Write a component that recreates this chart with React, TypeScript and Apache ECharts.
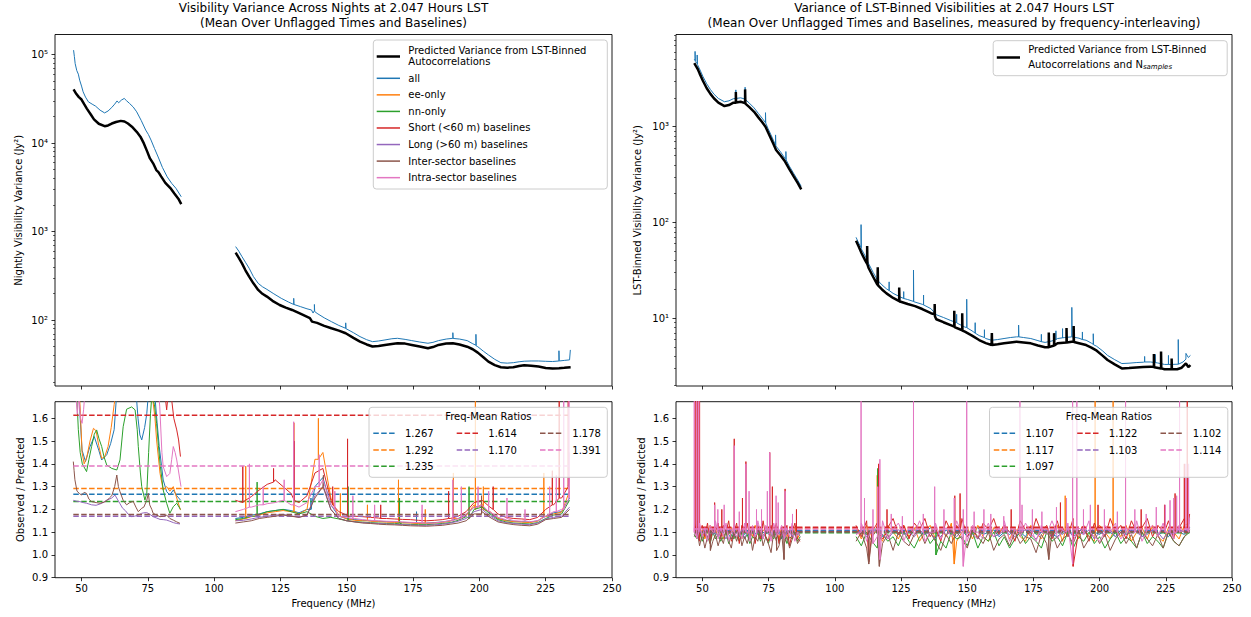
import React, { useEffect, useRef } from 'react';
import * as echarts from 'echarts';

const FONT = 'DejaVu Sans';
const SUBSETS = ['all', 'ee-only', 'nn-only', 'Short (<60 m) baselines', 'Long (>60 m) baselines', 'Inter-sector baselines', 'Intra-sector baselines'];
const COLORS = ['#1f77b4', '#ff7f0e', '#2ca02c', '#d62728', '#9467bd', '#8c564b', '#e377c2'];
const X_TICKS = [50, 75, 100, 125, 150, 175, 200, 225, 250];
const RATIO_TICKS = [0.9, 1.0, 1.1, 1.2, 1.3, 1.4, 1.5, 1.6];
const L_LOG_TICKS = [100, 1000, 10000, 100000];
const L_LOG_MINOR = [20, 30, 40, 50, 60, 70, 80, 90, 200, 300, 400, 500, 600, 700, 800, 900, 2000, 3000, 4000, 5000, 6000, 7000, 8000, 9000, 20000, 30000, 40000, 50000, 60000, 70000, 80000, 90000];
const R_LOG_TICKS = [10, 100, 1000];
const R_LOG_MINOR = [2, 3, 4, 5, 6, 7, 8, 9, 20, 30, 40, 50, 60, 70, 80, 90, 200, 300, 400, 500, 600, 700, 800, 900, 2000, 3000, 4000, 5000, 6000, 7000, 8000, 9000];
const MEANS_L = [1.267, 1.292, 1.235, 1.614, 1.170, 1.178, 1.391];
const MEANS_R = [1.107, 1.117, 1.097, 1.122, 1.103, 1.102, 1.114];
const F_START = 46.9;
const F_END = 234.4;
const GAP_F = 97;

// ---------- top-left: nightly variance ----------
const PRED_L_B1 = [[47.0, 40300], [48.0, 36000], [49.0, 33000], [50.0, 31000], [51.0, 27500], [52.0, 24500], [53.5, 21000], [54.7, 18500], [56.5, 16500], [58.7, 15500], [60.0, 15800], [61.4, 16600], [63.0, 17300], [64.8, 17800], [66.2, 17500], [67.5, 16600], [69.0, 15300], [70.8, 13400], [72.2, 11800], [73.5, 9900], [74.7, 8100], [75.8, 6700], [77.0, 5900], [78.2, 4950], [79.0, 4700], [80.0, 4200], [81.6, 3550], [83.5, 3100], [85.0, 2690], [86.5, 2350], [87.6, 2040]];
const PRED_L_B2 = [[108.1, 577], [109.3, 505], [110.5, 437], [111.8, 365], [113.2, 309], [114.8, 260], [116.6, 219], [118.2, 198], [119.9, 184], [122.0, 165], [124.7, 148], [127.0, 138], [129.4, 130], [132.5, 118], [136.1, 105], [136.9, 96], [138.8, 93], [141.5, 86], [144.2, 80.7], [147.0, 76], [149.6, 71], [152.5, 63], [155.0, 57], [157.5, 53], [159.7, 50.2], [162.0, 50.8], [164.4, 52.4], [167.0, 53.8], [169.1, 54.7], [172.0, 54.2], [174.5, 52.4], [177.5, 50.2], [180.6, 48], [182.5, 49.5], [184.6, 52.4], [187.5, 54.2], [190.0, 54.7], [192.5, 53.0], [195.4, 50], [197.5, 46.8], [199.4, 42.9], [201.5, 38.0], [203.4, 33.9], [205.8, 31.0], [208.1, 29.3], [210.5, 29.0], [212.8, 29.3], [215.0, 30.2], [216.9, 30.9], [219.5, 30.5], [222.3, 29.8], [225.0, 28.8], [227.6, 28.3], [230.0, 28.6], [232.0, 28.9], [234.4, 29.3]];
const ALL_L_B1 = [[47.0, 112000], [47.3, 95000], [47.6, 79000], [48.2, 66000], [48.8, 60000], [49.3, 51300], [50.0, 44000], [50.6, 37900], [51.5, 33000], [52.6, 29200], [54.0, 27500], [55.3, 26100], [57.0, 23500], [58.7, 21900], [60.0, 23000], [61.4, 25200], [62.5, 27500], [63.4, 29900], [64.0, 28500], [65.0, 30500], [66.1, 31900], [67.0, 30000], [68.1, 28000], [69.5, 25500], [70.8, 22500], [72.5, 18000], [74.2, 14000], [75.2, 12500], [76.2, 10800], [77.5, 8700], [78.9, 6950], [80.5, 5300], [82.3, 4150], [84.0, 3500], [85.6, 3080], [87.6, 2470]];
const ALL_L_B2 = [[108.1, 676], [109.3, 600], [110.5, 520], [111.8, 450], [113.2, 385], [114.8, 310], [116.6, 260], [118.2, 238], [119.9, 222], [122.5, 198], [125.3, 176], [128.0, 160], [130.0, 150], [130.0, 176], [130.1, 150], [132.5, 142], [135.0, 134], [136.7, 130], [137.3, 120], [137.8, 128], [137.8, 150], [137.9, 125], [138.8, 119], [141.5, 106], [144.2, 96], [147.0, 87], [149.6, 80.7], [149.6, 93], [149.7, 80], [152.5, 72], [155.0, 65], [157.5, 60], [159.7, 57], [162.0, 58], [164.4, 59.6], [167.0, 61.5], [169.1, 62.2], [172.0, 60.5], [174.5, 58.6], [177.5, 56.5], [180.6, 54.7], [182.5, 56], [184.6, 58.6], [187.5, 61], [190.0, 62.2], [190.0, 72], [190.1, 62], [192.5, 61], [195.4, 58.6], [197.5, 54], [198.7, 52], [198.7, 69], [198.8, 51], [199.4, 50], [201.5, 44.5], [203.4, 40.4], [205.8, 36], [208.1, 33], [210.5, 32.6], [212.8, 33], [215.0, 33.8], [216.9, 34.3], [219.5, 34.5], [222.3, 34.5], [225.0, 34.2], [227.6, 34], [230.0, 34.5], [230.0, 45], [230.1, 34.5], [232.0, 35], [234.0, 35.5], [234.3, 46]];

// ---------- top-right: LST-binned variance ----------
const PRED_R_B1 = [[46.9, 4600], [47.5, 4300], [48.2, 4000], [48.9, 3600], [50.2, 3000], [51.6, 2520], [53.0, 2200], [54.3, 1980], [56.0, 1780], [58.3, 1640], [60.0, 1680], [61.7, 1780], [62.6, 1780], [62.6, 2300], [62.7, 1790], [64.4, 1820], [66.1, 1760], [66.1, 2450], [66.2, 1740], [67.7, 1600], [69.5, 1430], [71.1, 1250], [72.5, 1120], [73.8, 1000], [74.8, 870], [75.8, 757], [76.8, 660], [77.8, 571], [79.5, 500], [81.2, 432], [82.8, 360], [84.5, 301], [86.0, 258], [87.3, 222]];
const ALL_R_B1 = [[46.9, 5050], [47.2, 4900], [47.2, 6100], [47.3, 4800], [48.0, 4550], [48.0, 5600], [48.1, 4450], [48.9, 4000], [50.2, 3330], [51.6, 2800], [53.0, 2440], [54.3, 2190], [56.0, 1970], [58.3, 1820], [60.0, 1860], [61.7, 1960], [62.6, 1970], [62.6, 2420], [62.7, 1970], [64.4, 2000], [66.1, 1940], [66.1, 2580], [66.2, 1920], [67.7, 1760], [69.5, 1570], [71.1, 1375], [72.5, 1230], [73.8, 1100], [73.8, 1400], [73.9, 1090], [74.8, 950], [75.8, 830], [76.8, 720], [77.6, 640], [77.6, 820], [77.7, 630], [79.5, 545], [81.2, 465], [81.5, 455], [81.5, 550], [81.6, 450], [82.8, 388], [84.5, 323], [86.0, 276], [87.3, 238]];
const PRED_R_B2 = [[108.0, 64.6], [109.0, 56], [110.1, 47.7], [111.5, 40], [112.2, 37], [112.2, 56.9], [112.3, 36.5], [112.8, 33.3], [114.5, 27], [116.1, 22.3], [116.2, 34], [116.3, 22], [117.8, 20], [119.5, 18.2], [122.0, 16.3], [124.3, 15.1], [124.3, 21], [124.4, 15], [124.9, 14.9], [127.5, 14.1], [130.3, 13.4], [133.0, 12.5], [136.3, 11.3], [137.7, 11.0], [137.7, 14.1], [137.8, 10.5], [138.3, 9.77], [141.0, 9.1], [143.7, 8.5], [145.1, 8.2], [145.1, 12], [145.2, 8.1], [148.1, 7.5], [148.1, 11.3], [148.2, 7.45], [149.1, 7.25], [151.8, 6.6], [154.5, 5.93], [157.0, 5.5], [159.2, 5.26], [159.3, 7.0], [159.4, 5.26], [161.5, 5.35], [163.9, 5.48], [166.3, 5.6], [168.6, 5.7], [171.3, 5.6], [174.0, 5.48], [176.7, 5.2], [179.4, 4.98], [180.8, 5.0], [180.8, 7.1], [180.9, 5.0], [182.8, 5.2], [182.8, 7.0], [182.9, 5.2], [184.1, 5.48], [187.5, 5.6], [187.5, 7.9], [187.6, 5.6], [189.5, 5.7], [190.2, 5.7], [190.2, 8.3], [190.3, 5.65], [192.2, 5.5], [194.9, 5.26], [196.9, 4.95], [198.9, 4.59], [201.0, 4.1], [203.0, 3.67], [205.7, 3.3], [208.4, 3.0], [211.1, 3.02], [213.8, 3.07], [216.5, 3.1], [219.2, 3.13], [220.5, 3.1], [220.5, 4.24], [220.6, 3.08], [223.2, 3.0], [223.2, 4.5], [223.3, 3.0], [224.5, 2.94], [227.2, 2.94], [227.2, 3.8], [227.3, 2.94], [229.3, 2.94], [231.0, 3.05], [232.6, 3.39], [233.5, 3.1], [234.3, 3.25]];
const ALL_R_B2 = [[108.0, 70], [109.0, 61], [109.9, 55], [109.9, 95], [110.0, 53], [111.5, 44.5], [112.8, 37], [114.5, 30], [116.1, 25], [117.8, 22.3], [119.5, 20.3], [122.0, 18.2], [124.9, 16.6], [127.5, 15.7], [129.7, 15.0], [129.7, 31.9], [129.8, 14.9], [133.0, 14.0], [136.3, 12.6], [138.3, 10.9], [141.0, 10.2], [143.7, 9.5], [146.5, 8.8], [149.1, 8.1], [149.8, 8.0], [149.8, 15.8], [149.9, 7.95], [151.8, 7.4], [154.5, 6.6], [157.0, 6.15], [159.2, 5.9], [161.5, 6.0], [163.9, 6.15], [166.3, 6.3], [168.6, 6.4], [169.4, 6.4], [169.4, 8.5], [169.5, 6.4], [171.3, 6.3], [174.0, 6.15], [176.7, 5.85], [179.4, 5.6], [182.0, 5.8], [184.1, 6.15], [186.8, 6.3], [189.5, 6.4], [189.5, 13], [189.6, 6.4], [192.2, 6.2], [194.9, 5.9], [196.9, 5.5], [197.6, 5.35], [197.6, 6.9], [197.7, 5.3], [198.9, 5.1], [201.0, 4.6], [203.0, 4.1], [205.7, 3.7], [208.4, 3.37], [211.1, 3.4], [213.8, 3.45], [216.5, 3.48], [219.2, 3.5], [221.9, 3.42], [224.5, 3.3], [227.2, 3.3], [229.7, 3.32], [229.7, 6.0], [229.8, 3.32], [231.5, 3.5], [232.6, 3.75], [232.6, 4.3], [233.5, 3.9], [234.3, 4.1]];
const ALL_R_SP = [[120.5, 19.5, 24], [126.0, 16.1, 19], [133.5, 13.8, 17.5], [146.0, 9.0, 11], [153.0, 7.0, 9], [156.5, 6.3, 7.6], [178.0, 5.7, 6.8], [183.5, 6.0, 7.4], [186.0, 6.25, 7.8], [193.5, 6.0, 7.2], [217.0, 3.5, 4.0], [221.0, 3.45, 4.2], [226.0, 3.3, 4.1]];

// ---------- bottom-left: ratios, band 1 (freq, ratio) ----------
const L_ALL_B1 = [[46.9, 2.0], [48.5, 1.85], [49.5, 1.6], [50.2, 1.46], [51.5, 1.41], [53.0, 1.47], [54.8, 1.52], [56.5, 1.46], [57.6, 1.417], [59.5, 1.44], [61.0, 1.49], [62.3, 1.55], [63.5, 1.75], [66, 1.9], [70, 1.8], [71.3, 1.6], [72.0, 1.527], [72.7, 1.505], [73.8, 1.56], [74.6, 1.62], [75.5, 1.75], [77.5, 1.72], [78.5, 1.58], [79.3, 1.476], [80.8, 1.329], [82.1, 1.278], [83.3, 1.263], [84.6, 1.285], [85.9, 1.26], [87.3, 1.241]];
const L_EE_B1 = [[46.9, 2.0], [48.5, 1.85], [49.6, 1.62], [50.2, 1.45], [51.0, 1.40], [52.0, 1.43], [53.2, 1.5], [54.5, 1.556], [55.5, 1.545], [56.5, 1.48], [57.6, 1.424], [58.7, 1.43], [60.0, 1.476], [61.2, 1.56], [62.3, 1.66], [63.5, 1.75], [68, 1.8], [74, 1.75], [76.5, 1.72], [77.7, 1.6], [78.3, 1.505], [79.6, 1.358], [80.8, 1.285], [82.1, 1.3], [83.3, 1.28], [84.6, 1.3], [85.9, 1.25], [87.3, 1.197]];
const L_NN_B1 = [[46.9, 1.9], [48.0, 1.75], [48.8, 1.55], [49.5, 1.45], [50.3, 1.40], [51.9, 1.366], [52.8, 1.42], [53.8, 1.476], [54.8, 1.53], [55.7, 1.549], [56.6, 1.51], [57.6, 1.476], [58.5, 1.43], [59.5, 1.395], [61.4, 1.38], [63.3, 1.373], [64.5, 1.417], [65.7, 1.563], [67.0, 1.64], [68.9, 1.65], [70.2, 1.637], [71.0, 1.55], [71.4, 1.476], [72.2, 1.36], [72.7, 1.3], [73.9, 1.241], [74.6, 1.27], [75.3, 1.45], [76.0, 1.62], [76.5, 1.7], [77.5, 1.66], [78.3, 1.578], [79.0, 1.48], [79.6, 1.402], [80.8, 1.285], [82.1, 1.227], [83.3, 1.183], [84.6, 1.212], [85.9, 1.227], [87.3, 1.2]];
const L_SHORT_B1 = [[46.9, 2.2], [55, 2.4], [65, 2.5], [75, 2.3], [79, 2.0], [80.5, 1.8], [81.5, 1.7], [82.1, 1.637], [83.0, 1.75], [84.0, 1.68], [84.8, 1.6], [85.9, 1.549], [86.6, 1.505], [87.3, 1.432]];
const L_LONG_B1 = [[46.9, 1.24], [48.0, 1.236], [49.4, 1.234], [50.6, 1.23], [51.9, 1.227], [53.8, 1.22], [55.5, 1.218], [57.0, 1.224], [58.5, 1.232], [59.5, 1.241], [60.5, 1.245], [61.4, 1.25], [62.6, 1.263], [63.5, 1.245], [64.5, 1.225], [65.5, 1.205], [66.5, 1.195], [67.5, 1.18], [68.9, 1.168], [70.0, 1.17], [71.4, 1.175], [72.7, 1.183], [73.5, 1.185], [74.6, 1.186], [75.8, 1.178], [77.0, 1.168], [78.3, 1.162], [79.6, 1.156], [80.8, 1.155], [82.1, 1.153], [83.3, 1.148], [84.6, 1.142], [85.9, 1.138], [87.1, 1.136]];
const L_INTER_B1 = [[46.9, 1.41], [47.2, 1.37], [47.5, 1.33], [48.3, 1.28], [49.2, 1.27], [50.0, 1.263], [51.0, 1.275], [51.9, 1.27], [52.8, 1.245], [53.8, 1.234], [55.5, 1.23], [57.0, 1.227], [58.5, 1.232], [59.5, 1.238], [60.5, 1.25], [61.4, 1.26], [62.5, 1.3], [63.3, 1.351], [63.9, 1.3], [64.5, 1.278], [65.7, 1.24], [67.0, 1.22], [68.2, 1.23], [69.5, 1.235], [70.5, 1.21], [71.4, 1.19], [72.7, 1.205], [73.5, 1.21], [74.6, 1.24], [75.2, 1.27], [75.7, 1.22], [76.5, 1.2], [77.0, 1.183], [78.3, 1.175], [79.6, 1.168], [81.0, 1.17], [82.1, 1.175], [83.3, 1.16], [84.6, 1.153], [85.9, 1.145], [87.1, 1.139]];
const L_INTRA_B1 = [[46.9, 1.9], [47.5, 1.75], [48.0, 1.68], [48.4, 1.62], [49.0, 1.70], [49.6, 1.6], [50.2, 1.578], [50.8, 1.64], [51.5, 1.75], [60, 1.9], [70, 1.9], [78.5, 1.8], [79.5, 1.65], [80.3, 1.45], [80.8, 1.388], [82.1, 1.344], [83.3, 1.358], [84.0, 1.42], [84.6, 1.476], [85.3, 1.45], [85.9, 1.417], [87.1, 1.329], [87.5, 1.30]];

// ---------- bottom-left: ratios, band 2 (108..234 MHz every 3 MHz) ----------
const L_B2_START = 108;
const L_B2_STEP = 3;
const L_ALL_B2 = [1.16, 1.165, 1.175, 1.18, 1.19, 1.195, 1.2, 1.195, 1.185, 1.2, 1.30, 1.34, 1.22, 1.17, 1.16, 1.155, 1.152, 1.15, 1.148, 1.146, 1.145, 1.143, 1.142, 1.14, 1.14, 1.142, 1.145, 1.15, 1.16, 1.175, 1.21, 1.215, 1.185, 1.16, 1.152, 1.148, 1.146, 1.144, 1.15, 1.17, 1.185, 1.19, 1.25];
const L_EE_B2 = [1.15, 1.158, 1.168, 1.175, 1.185, 1.19, 1.195, 1.19, 1.18, 1.2, 1.42, 1.45, 1.25, 1.17, 1.158, 1.152, 1.15, 1.148, 1.146, 1.144, 1.143, 1.141, 1.14, 1.138, 1.138, 1.14, 1.143, 1.148, 1.158, 1.172, 1.22, 1.225, 1.19, 1.16, 1.15, 1.146, 1.144, 1.142, 1.148, 1.168, 1.18, 1.188, 1.28];
const L_NN_B2 = [1.155, 1.16, 1.17, 1.178, 1.19, 1.195, 1.2, 1.19, 1.18, 1.19, 1.17, 1.16, 1.165, 1.158, 1.15, 1.146, 1.144, 1.142, 1.14, 1.138, 1.137, 1.135, 1.134, 1.133, 1.133, 1.135, 1.138, 1.142, 1.152, 1.168, 1.2, 1.21, 1.18, 1.155, 1.145, 1.14, 1.138, 1.136, 1.142, 1.16, 1.175, 1.18, 1.24];
const L_SHORT_B2 = [1.24, 1.234, 1.256, 1.285, 1.31, 1.33, 1.30, 1.27, 1.23, 1.26, 1.36, 1.38, 1.24, 1.19, 1.175, 1.17, 1.168, 1.165, 1.162, 1.16, 1.158, 1.156, 1.155, 1.152, 1.15, 1.152, 1.155, 1.16, 1.17, 1.19, 1.23, 1.24, 1.21, 1.18, 1.165, 1.16, 1.158, 1.155, 1.165, 1.2, 1.22, 1.25, 1.35];
const L_LONG_B2 = [1.15, 1.152, 1.158, 1.165, 1.17, 1.175, 1.178, 1.172, 1.165, 1.175, 1.26, 1.3, 1.2, 1.16, 1.15, 1.145, 1.142, 1.14, 1.138, 1.136, 1.135, 1.133, 1.132, 1.13, 1.13, 1.132, 1.135, 1.14, 1.148, 1.16, 1.19, 1.2, 1.172, 1.15, 1.142, 1.138, 1.135, 1.133, 1.14, 1.158, 1.165, 1.17, 1.21];
const L_INTER_B2 = [1.14, 1.145, 1.15, 1.16, 1.165, 1.17, 1.175, 1.17, 1.165, 1.175, 1.25, 1.3, 1.2, 1.16, 1.15, 1.145, 1.14, 1.138, 1.135, 1.133, 1.132, 1.13, 1.128, 1.127, 1.126, 1.128, 1.13, 1.135, 1.14, 1.15, 1.18, 1.19, 1.165, 1.145, 1.138, 1.133, 1.13, 1.128, 1.135, 1.155, 1.16, 1.165, 1.2];
const L_INTRA_B2 = [1.19, 1.2, 1.21, 1.22, 1.225, 1.23, 1.24, 1.22, 1.21, 1.23, 1.30, 1.33, 1.22, 1.17, 1.165, 1.16, 1.155, 1.152, 1.15, 1.148, 1.147, 1.145, 1.143, 1.142, 1.14, 1.14, 1.145, 1.15, 1.16, 1.18, 1.21, 1.22, 1.19, 1.165, 1.155, 1.15, 1.148, 1.146, 1.15, 1.17, 1.19, 1.2, 1.45];
// narrow RFI spikes: [freq, base, peak]
const L_ALL_SP = [[136.5, 1.2, 1.25], [176.3, 1.14, 1.19]];
const L_EE_SP = [[111.9, 1.16, 1.39], [130.1, 1.19, 1.58], [139.3, 1.42, 1.6], [147.6, 1.17, 1.27], [157.8, 1.15, 1.22], [169.5, 1.14, 1.33], [179.6, 1.14, 1.2], [190.2, 1.16, 1.36], [198.5, 1.2, 1.7], [201.5, 1.2, 1.3], [224.3, 1.17, 1.36]];
const L_NN_SP = [[116.2, 1.17, 1.32], [150.5, 1.15, 1.3], [169.9, 1.14, 1.25], [196.1, 1.16, 1.3]];
const L_SHORT_SP = [[110.8, 1.23, 1.39], [122.4, 1.32, 1.38], [130.2, 1.24, 1.5], [144.7, 1.22, 1.3], [150.3, 1.17, 1.51], [162.8, 1.16, 1.22], [188.4, 1.16, 1.28], [205.2, 1.2, 1.3], [227.5, 1.22, 1.37], [230.1, 1.25, 1.75], [233.5, 1.3, 1.75]];
const L_LONG_SP = [];
const L_INTER_SP = [[141.2, 1.3, 1.35], [200.8, 1.18, 1.26]];
const L_INTRA_SP = [[113.3, 1.21, 1.4], [118.5, 1.22, 1.3], [126.4, 1.24, 1.33], [130.0, 1.22, 1.585], [139.6, 1.3, 1.44], [145.5, 1.2, 1.28], [152.3, 1.16, 1.26], [160.5, 1.15, 1.22], [178.4, 1.14, 1.22], [190.0, 1.15, 1.33], [193.2, 1.16, 1.3], [199.5, 1.21, 1.3], [203.5, 1.19, 1.28], [210.4, 1.16, 1.25], [217.2, 1.15, 1.2], [226.5, 1.18, 1.3], [229.0, 1.19, 1.35], [231.8, 1.2, 1.75], [233.8, 1.25, 1.75]];

// ---------- bottom-right: ratios (band 1 every 1 MHz from 46.9, band 2 every 2 MHz from 108) ----------
const R_B1_START = 46.9;
const R_B1_STEP = 1;
const R_B2_START = 108;
const R_B2_STEP = 2;
const R_ALL_B1 = [1.10, 1.09, 1.11, 1.08, 1.10, 1.12, 1.08, 1.10, 1.09, 1.11, 1.08, 1.10, 1.11, 1.09, 1.07, 1.10, 1.11, 1.08, 1.10, 1.09, 1.11, 1.07, 1.10, 1.09, 1.11, 1.08, 1.10, 1.09, 1.11, 1.08, 1.10, 1.09, 1.11, 1.07, 1.10, 1.09, 1.11, 1.08, 1.10, 1.09, 1.10];
const R_EE_B1 = [1.10, 1.12, 1.08, 1.11, 1.07, 1.10, 1.13, 1.09, 1.11, 1.08, 1.12, 1.07, 1.10, 1.09, 1.12, 1.08, 1.11, 1.10, 1.07, 1.12, 1.09, 1.11, 1.08, 1.13, 1.09, 1.07, 1.11, 1.10, 1.12, 1.08, 1.09, 1.11, 1.07, 1.12, 1.10, 1.08, 1.11, 1.09, 1.12, 1.07, 1.10];
const R_NN_B1 = [1.09, 1.07, 1.10, 1.06, 1.09, 1.08, 1.05, 1.10, 1.07, 1.09, 1.06, 1.08, 1.10, 1.05, 1.09, 1.07, 1.08, 1.06, 1.10, 1.07, 1.09, 1.05, 1.08, 1.07, 1.10, 1.06, 1.09, 1.08, 1.05, 1.09, 1.07, 1.10, 1.06, 1.08, 1.09, 1.05, 1.08, 1.07, 1.10, 1.06, 1.08];
const R_SHORT_B1 = [1.11, 1.15, 1.06, 1.13, 1.08, 1.14, 1.05, 1.12, 1.10, 1.14, 1.07, 1.13, 1.10, 1.15, 1.06, 1.09, 1.14, 1.05, 1.13, 1.10, 1.14, 1.08, 1.12, 1.05, 1.13, 1.07, 1.15, 1.08, 1.06, 1.13, 1.10, 1.14, 1.05, 1.12, 1.08, 1.13, 1.04, 1.10, 1.14, 1.07, 1.06];
const R_LONG_B1 = [1.10, 1.08, 1.11, 1.09, 1.10, 1.07, 1.11, 1.09, 1.10, 1.08, 1.11, 1.09, 1.07, 1.10, 1.11, 1.08, 1.10, 1.09, 1.11, 1.07, 1.10, 1.09, 1.11, 1.08, 1.10, 1.09, 1.07, 1.11, 1.09, 1.10, 1.08, 1.11, 1.09, 1.10, 1.07, 1.10, 1.11, 1.08, 1.09, 1.10, 1.08];
const R_INTER_B1 = [1.08, 1.11, 1.04, 1.09, 1.03, 1.08, 1.11, 1.06, 1.09, 1.04, 1.08, 1.05, 1.11, 1.06, 1.03, 1.10, 1.06, 1.11, 1.04, 1.08, 1.05, 1.10, 1.02, 1.08, 1.06, 1.11, 1.04, 1.08, 1.05, 1.01, 1.10, 1.06, 1.04, 1.10, 1.05, 1.08, 1.03, 1.07, 1.10, 1.05, 1.07];
const R_INTRA_B1 = [1.12, 1.07, 1.14, 1.08, 1.12, 1.06, 1.13, 1.10, 1.15, 1.07, 1.12, 1.08, 1.14, 1.06, 1.10, 1.13, 1.08, 1.12, 1.07, 1.14, 1.10, 1.06, 1.13, 1.08, 1.15, 1.10, 1.07, 1.13, 1.11, 1.06, 1.14, 1.08, 1.10, 1.13, 1.07, 1.12, 1.08, 1.14, 1.06, 1.10, 1.09];
const R_ALL_B2 = [1.10, 1.11, 1.09, 1.10, 1.12, 1.08, 1.10, 1.11, 1.09, 1.10, 1.08, 1.11, 1.10, 1.09, 1.12, 1.10, 1.08, 1.11, 1.09, 1.10, 1.11, 1.08, 1.10, 1.12, 1.09, 1.10, 1.11, 1.08, 1.10, 1.09, 1.11, 1.10, 1.08, 1.12, 1.09, 1.10, 1.11, 1.09, 1.08, 1.10, 1.11, 1.09, 1.10, 1.12, 1.08, 1.10, 1.09, 1.11, 1.10, 1.08, 1.11, 1.09, 1.10, 1.12, 1.08, 1.10, 1.11, 1.09, 1.10, 1.08, 1.11, 1.10, 1.09, 1.12];
const R_EE_B2 = [1.12, 1.07, 1.13, 1.08, 1.12, 1.06, 1.13, 1.10, 1.07, 1.13, 1.08, 1.12, 1.06, 1.10, 1.13, 1.07, 1.12, 1.08, 1.14, 1.06, 1.10, 1.12, 1.07, 1.13, 1.08, 1.06, 1.12, 1.10, 1.13, 1.07, 1.12, 1.08, 1.06, 1.13, 1.10, 1.07, 1.12, 1.08, 1.13, 1.06, 1.10, 1.13, 1.07, 1.12, 1.08, 1.06, 1.13, 1.10, 1.07, 1.12, 1.08, 1.13, 1.06, 1.10, 1.12, 1.07, 1.13, 1.08, 1.06, 1.12, 1.10, 1.07, 1.13, 1.14];
const R_NN_B2 = [1.08, 1.04, 1.10, 1.06, 1.03, 1.09, 1.06, 1.08, 1.04, 1.10, 1.06, 1.03, 1.08, 1.10, 1.05, 1.08, 1.06, 1.03, 1.10, 1.07, 1.08, 1.04, 1.10, 1.03, 1.08, 1.06, 1.10, 1.04, 1.08, 1.03, 1.07, 1.10, 1.05, 1.08, 1.06, 1.03, 1.10, 1.06, 1.08, 1.04, 1.10, 1.03, 1.08, 1.06, 1.10, 1.05, 1.08, 1.03, 1.07, 1.10, 1.05, 1.08, 1.06, 1.03, 1.10, 1.05, 1.08, 1.06, 1.03, 1.10, 1.06, 1.04, 1.08, 1.10];
const R_SHORT_B2 = [1.13, 1.08, 1.15, 1.10, 1.14, 1.07, 1.12, 1.16, 1.09, 1.13, 1.07, 1.14, 1.11, 1.16, 1.08, 1.12, 1.06, 1.15, 1.10, 1.13, 1.16, 1.08, 1.12, 1.07, 1.14, 1.11, 1.16, 1.09, 1.13, 1.10, 1.06, 1.15, 1.11, 1.08, 1.16, 1.10, 1.13, 1.07, 1.15, 1.12, 1.08, 1.16, 1.10, 1.13, 1.06, 1.14, 1.11, 1.08, 1.16, 1.10, 1.13, 1.07, 1.15, 1.10, 1.12, 1.16, 1.08, 1.13, 1.10, 1.15, 1.07, 1.12, 1.16, 1.18];
const R_LONG_B2 = [1.09, 1.11, 1.08, 1.10, 1.11, 1.09, 1.07, 1.10, 1.11, 1.09, 1.10, 1.08, 1.11, 1.09, 1.10, 1.07, 1.11, 1.09, 1.10, 1.08, 1.11, 1.10, 1.09, 1.07, 1.11, 1.10, 1.08, 1.09, 1.11, 1.10, 1.08, 1.10, 1.11, 1.09, 1.07, 1.10, 1.11, 1.08, 1.10, 1.09, 1.11, 1.08, 1.10, 1.09, 1.11, 1.07, 1.10, 1.09, 1.11, 1.08, 1.10, 1.09, 1.11, 1.10, 1.08, 1.09, 1.11, 1.10, 1.07, 1.10, 1.09, 1.11, 1.10, 1.12];
const R_INTER_B2 = [1.06, 1.10, 1.03, 1.08, 1.11, 1.05, 1.09, 1.02, 1.10, 1.06, 1.04, 1.09, 1.11, 1.05, 1.10, 1.06, 1.02, 1.09, 1.05, 1.10, 1.07, 1.03, 1.11, 1.08, 1.05, 1.10, 1.02, 1.07, 1.09, 1.04, 1.10, 1.05, 1.08, 1.07, 1.01, 1.09, 1.05, 1.10, 1.03, 1.07, 1.09, 1.05, 1.11, 1.03, 1.07, 1.10, 1.05, 1.09, 1.02, 1.07, 1.10, 1.05, 1.09, 1.03, 1.10, 1.07, 1.04, 1.09, 1.03, 1.10, 1.06, 1.04, 1.08, 1.11];
const R_INTRA_B2 = [1.09, 1.14, 1.06, 1.12, 1.08, 1.15, 1.07, 1.11, 1.14, 1.06, 1.12, 1.09, 1.15, 1.06, 1.10, 1.14, 1.07, 1.12, 1.08, 1.15, 1.09, 1.06, 1.13, 1.10, 1.07, 1.14, 1.08, 1.12, 1.15, 1.06, 1.11, 1.08, 1.14, 1.10, 1.06, 1.13, 1.09, 1.15, 1.07, 1.11, 1.14, 1.06, 1.12, 1.09, 1.15, 1.08, 1.06, 1.13, 1.10, 1.14, 1.07, 1.12, 1.09, 1.15, 1.06, 1.11, 1.13, 1.08, 1.14, 1.10, 1.07, 1.13, 1.11, 1.16];
const R_ALL_SP = [];
const R_EE_SP = [[116.0, 1.1, 1.35], [145.1, 0.96, 1.1], [187.0, 1.1, 1.26], [198.3, 1.1, 2.0], [205.1, 1.1, 2.0]];
const R_NN_SP = [[62.1, 1.08, 1.3], [116.2, 1.05, 1.38], [138.2, 1.0, 1.1]];
const R_SHORT_SP = [[47.2, 1.1, 2.0], [48.0, 1.1, 2.0], [48.9, 1.1, 1.7], [54.6, 1.1, 1.23], [57.3, 1.1, 1.2], [62.0, 1.1, 1.51], [65.1, 1.1, 1.25], [66.4, 1.1, 1.41], [75.4, 1.1, 1.45], [76.4, 1.1, 1.3], [81.2, 1.1, 1.29], [85.5, 1.1, 1.2], [112.8, 0.97, 1.1], [116.5, 1.1, 1.4], [119.7, 1.1, 1.2], [145.3, 1.1, 1.26], [147.3, 1.1, 1.27], [166.6, 1.1, 1.2], [185.2, 1.1, 1.23], [190.0, 0.95, 1.1], [199.4, 1.1, 1.22], [215.7, 1.1, 1.2], [224.5, 1.1, 1.22], [228.5, 1.1, 1.27], [232.0, 1.1, 1.4], [233.1, 1.1, 2.0]];
const R_LONG_SP = [];
const R_INTER_SP = [[53.0, 1.02, 1.09], [78.0, 1.02, 1.1], [80.8, 0.98, 1.1], [112.8, 0.96, 1.1], [116.8, 0.95, 1.1], [180.8, 0.98, 1.1]];
const R_INTRA_SP = [[46.9, 1.1, 1.9], [47.8, 1.08, 1.9], [48.6, 1.1, 1.8], [54.6, 1.1, 1.22], [55.8, 1.1, 1.2], [58.2, 1.1, 1.22], [62.0, 1.1, 1.48], [63.9, 1.1, 1.19], [66.4, 1.1, 1.40], [67.6, 1.1, 1.28], [70.4, 1.09, 1.2], [72.3, 1.1, 1.2], [74.5, 1.1, 1.28], [75.4, 1.1, 1.45], [77.8, 1.1, 1.26], [78.6, 1.1, 1.23], [81.2, 1.1, 1.28], [84.0, 1.1, 1.18], [109.9, 1.1, 2.0], [111.2, 1.1, 1.25], [114.4, 1.05, 1.2], [116.2, 1.1, 1.3], [117.0, 0.98, 1.42], [121.3, 1.1, 1.18], [125.5, 1.1, 1.17], [129.7, 1.1, 2.0], [133.4, 1.1, 1.18], [137.7, 1.1, 1.3], [141.2, 1.1, 1.2], [145.1, 1.1, 1.25], [148.5, 0.95, 1.2], [149.8, 1.1, 2.0], [152.6, 1.1, 1.19], [156.3, 1.1, 1.2], [158.9, 1.1, 1.18], [163.8, 1.1, 1.17], [169.9, 1.1, 2.0], [170.7, 1.1, 1.22], [174.6, 1.1, 1.2], [178.2, 1.1, 1.19], [183.7, 1.1, 1.21], [187.5, 1.1, 1.25], [189.8, 0.96, 2.0], [191.4, 1.1, 2.0], [193.9, 1.1, 1.2], [196.5, 1.1, 1.22], [201.8, 1.1, 1.2], [206.7, 1.1, 1.19], [209.8, 1.1, 2.0], [213.3, 1.1, 1.2], [217.6, 1.1, 1.18], [221.4, 1.1, 1.21], [224.8, 1.1, 1.22], [226.6, 1.1, 1.24], [228.0, 1.1, 1.25], [229.1, 1.1, 1.26], [230.2, 1.1, 2.0], [232.6, 1.12, 1.4], [233.6, 1.1, 1.4]];

const L_B1 = [L_ALL_B1, L_EE_B1, L_NN_B1, L_SHORT_B1, L_LONG_B1, L_INTER_B1, L_INTRA_B1];
const L_B2 = [L_ALL_B2, L_EE_B2, L_NN_B2, L_SHORT_B2, L_LONG_B2, L_INTER_B2, L_INTRA_B2];
const L_SP = [L_ALL_SP, L_EE_SP, L_NN_SP, L_SHORT_SP, L_LONG_SP, L_INTER_SP, L_INTRA_SP];
const R_B1 = [R_ALL_B1, R_EE_B1, R_NN_B1, R_SHORT_B1, R_LONG_B1, R_INTER_B1, R_INTRA_B1];
const R_B2 = [R_ALL_B2, R_EE_B2, R_NN_B2, R_SHORT_B2, R_LONG_B2, R_INTER_B2, R_INTRA_B2];
const R_SP = [R_ALL_SP, R_EE_SP, R_NN_SP, R_SHORT_SP, R_LONG_SP, R_INTER_SP, R_INTRA_SP];

// ---------- helpers ----------
function gridPts(start: number, step: number, vals: number[]) {
  return vals.map((v, i) => [Math.round((start + i * step) * 100) / 100, v]);
}
function addSpikes(pts: any[], spikes: number[][]) {
  const extra: any[] = [];
  spikes.forEach(([f, a, b]) => { extra.push([f, a], [f, b], [f, a]); });
  return pts.concat(extra).sort((p, q) => p[0] - q[0]);
}
function joinBands(b1: any[], b2: any[]) {
  return [...b1, [GAP_F, null], ...b2];
}
function lineSeries(name: string, data: any[], axis: number, color: string, width: number, extra: any = {}) {
  return {
    type: 'line', name, data, xAxisIndex: axis, yAxisIndex: axis,
    showSymbol: false, symbol: 'none', silent: true, clip: true,
    lineStyle: { color, width }, itemStyle: { color },
    emphasis: { disabled: true }, ...extra,
  };
}
const DASH = [5.5, 2.4];
const SUP: any = { 0: '⁰', 1: '¹', 2: '²', 3: '³', 4: '⁴', 5: '⁵' };
const logFmt = (v: number) => {
  const e = Math.log10(v);
  const r = Math.round(e);
  return Math.abs(e - r) < 1e-6 ? '10' + SUP[r] : '';
};
const tickLine = { color: '#000', width: 0.8 };
const nameStyle = { fontSize: 10, color: '#000', fontFamily: FONT };
const labelStyle = { color: '#000', fontSize: 10, fontFamily: FONT };

function xAxis(gridIndex: number, withLabels: boolean) {
  return {
    type: 'value', gridIndex, min: 40, max: 250,
    axisLine: { show: false, onZero: false },
    axisTick: { show: true, customValues: X_TICKS, length: 3.5, lineStyle: tickLine },
    axisLabel: withLabels ? { show: true, customValues: X_TICKS, margin: 6, ...labelStyle } : { show: false },
    splitLine: { show: false },
    name: withLabels ? 'Frequency (MHz)' : '',
    nameLocation: 'middle', nameGap: 21, nameTextStyle: nameStyle, nameMoveOverlap: false,
  };
}
function yLog(gridIndex: number, min: number, max: number, ticks: number[], name: string, gap: number) {
  return {
    type: 'log', logBase: 10, gridIndex, min, max, position: 'left',
    axisLine: { show: false },
    axisTick: { show: true, customValues: ticks, length: 3.5, lineStyle: tickLine },
    axisLabel: { show: true, customValues: ticks, formatter: logFmt, margin: 7, ...labelStyle },
    splitLine: { show: false }, minorTick: { show: false },
    name, nameLocation: 'middle', nameGap: gap, nameTextStyle: nameStyle, nameMoveOverlap: false,
  };
}
function yMinor(gridIndex: number, min: number, max: number, ticks: number[]) {
  return {
    type: 'log', logBase: 10, gridIndex, min, max, position: 'left', offset: 0,
    axisLine: { show: false },
    axisTick: { show: true, customValues: ticks, length: 2, lineStyle: { color: '#000', width: 0.6 } },
    axisLabel: { show: false }, splitLine: { show: false },
  };
}
function yRatio(gridIndex: number, gap: number) {
  return {
    type: 'value', gridIndex, min: 0.9, max: 1.673, position: 'left',
    axisLine: { show: false },
    axisTick: { show: true, customValues: RATIO_TICKS, length: 3.5, lineStyle: tickLine },
    axisLabel: { show: true, customValues: RATIO_TICKS, formatter: (v: number) => v.toFixed(1), margin: 7, ...labelStyle },
    splitLine: { show: false },
    name: 'Observed / Predicted', nameLocation: 'middle', nameGap: gap, nameTextStyle: nameStyle, nameMoveOverlap: false,
  };
}

// ---------- legends (graphic) ----------
const txt = (x: number, y: number, text: string, extra: any = {}) => ({
  type: 'text', x, y, z: 101, silent: true,
  style: { text, fontSize: 10, fontFamily: FONT, fill: '#000', align: 'left', verticalAlign: 'middle', ...extra },
});
const hline = (x1: number, x2: number, y: number, color: string, width: number, dash?: number[]) => ({
  type: 'line', z: 101, silent: true,
  shape: { x1, y1: y, x2, y2: y },
  style: { stroke: color, lineWidth: width, lineDash: dash || null },
});
const box = (x: number, y: number, w: number, h: number) => ({
  type: 'rect', z: 100, silent: true,
  shape: { x, y, width: w, height: h, r: 3 },
  style: { fill: 'rgba(255,255,255,0.8)', stroke: '#cccccc', lineWidth: 1 },
});

function topLeftLegend() {
  const els: any[] = [box(373.3, 40, 234, 149)];
  els.push(hline(376.7, 400, 56.5, '#000', 2.5));
  els.push(txt(408.3, 56, 'Predicted Variance from LST-Binned\nAutocorrelations', { lineHeight: 11.8 }));
  SUBSETS.forEach((s, i) => {
    const y = 78.3 + i * 16.56;
    els.push(hline(376.7, 400, y, COLORS[i], 1.5));
    els.push(txt(408.3, y, s));
  });
  return els;
}
function topRightLegend() {
  return [
    box(993.2, 40.7, 234, 35),
    hline(996.8, 1020, 57.5, '#000', 2.5),
    txt(1028.2, 49.6, 'Predicted Variance from LST-Binned'),
    {
      type: 'text', x: 1028.2, y: 64, z: 101, silent: true,
      style: {
        text: '{a|Autocorrelations and N}{b|samples}', align: 'left', verticalAlign: 'middle',
        rich: {
          a: { fontSize: 10, fontFamily: FONT, fill: '#000', color: '#000' },
          b: { fontSize: 7, fontStyle: 'italic', fontFamily: FONT, fill: '#000', color: '#000', padding: [5, 0, 0, 0] },
        },
      },
    },
  ];
}
function ratioLegend(dx: number, means: number[]) {
  const els: any[] = [box(369 + dx, 407.3, 238.3, 70)];
  els.push(txt(488.3 + dx, 416.7, 'Freq-Mean Ratios', { align: 'center' }));
  const cols = [[373.3, 395, 405], [456.7, 478.3, 488.3], [540, 561.7, 572.3]];
  const place = [[0, 0], [0, 1], [0, 2], [1, 0], [1, 1], [2, 0], [2, 1]];
  const rows = [433.3, 450, 466.3];
  means.forEach((m, i) => {
    const [c, r] = place[i];
    const [h0, h1, tx] = cols[c];
    els.push(hline(h0 + dx, h1 + dx, rows[r], COLORS[i], 1.5, DASH));
    els.push(txt(tx + dx, rows[r], m.toFixed(3)));
  });
  return els;
}

function buildOption() {
  const series: any[] = [];
  // top-left
  series.push(lineSeries('Predicted Variance from LST-Binned Autocorrelations', joinBands(PRED_L_B1, PRED_L_B2), 0, '#000', 2.5));
  series.push(lineSeries('all', joinBands(ALL_L_B1, ALL_L_B2), 0, COLORS[0], 1));
  // top-right
  series.push(lineSeries('all (LST-binned)', joinBands(ALL_R_B1, addSpikes(ALL_R_B2, ALL_R_SP)), 2, COLORS[0], 1));
  series.push(lineSeries('Predicted Variance from LST-Binned Autocorrelations and Nsamples', joinBands(PRED_R_B1, PRED_R_B2), 2, '#000', 2.5));
  // bottom-left ratios
  SUBSETS.forEach((s, i) => {
    const b2 = addSpikes(gridPts(L_B2_START, L_B2_STEP, L_B2[i]), L_SP[i]);
    series.push(lineSeries(s, joinBands(L_B1[i], b2), 1, COLORS[i], 1));
    series.push(lineSeries(s + ' mean', [[F_START, MEANS_L[i]], [F_END, MEANS_L[i]]], 1, COLORS[i], 1.5, { lineStyle: { color: COLORS[i], width: 1.5, type: DASH } }));
  });
  // bottom-right ratios
  SUBSETS.forEach((s, i) => {
    const b1 = gridPts(R_B1_START, R_B1_STEP, R_B1[i]);
    const b2 = gridPts(R_B2_START, R_B2_STEP, R_B2[i]);
    const sp = R_SP[i];
    const b1s = addSpikes(b1, sp.filter((p) => p[0] < GAP_F));
    const b2s = addSpikes(b2, sp.filter((p) => p[0] > GAP_F));
    series.push(lineSeries(s + ' (LST-binned)', joinBands(b1s, b2s), 3, COLORS[i], 1));
    series.push(lineSeries(s + ' mean (LST-binned)', [[F_START, MEANS_R[i]], [F_END, MEANS_R[i]]], 3, COLORS[i], 1.5, { lineStyle: { color: COLORS[i], width: 1.5, type: DASH } }));
  });

  const gridBase = { show: true, borderColor: '#000', borderWidth: 0.9, backgroundColor: 'transparent', containLabel: false, outerBoundsMode: 'none' };

  return {
    animation: false,
    backgroundColor: '#fff',
    textStyle: { fontFamily: FONT },
    grid: [
      { ...gridBase, left: 55, top: 34.5, width: 557, height: 351.5 },
      { ...gridBase, left: 55, top: 401.7, width: 557, height: 176 },
      { ...gridBase, left: 676, top: 34.5, width: 556, height: 351.5 },
      { ...gridBase, left: 676, top: 401.7, width: 556, height: 176 },
    ],
    xAxis: [xAxis(0, false), xAxis(1, true), xAxis(2, false), xAxis(3, true)],
    yAxis: [
      yLog(0, 17.99, 168300, L_LOG_TICKS, 'Nightly Visibility Variance (Jy²)', 32),
      yRatio(1, 29.5),
      yLog(2, 1.965, 9160, R_LOG_TICKS, 'LST-Binned Visibility Variance (Jy²)', 34),
      yRatio(3, 29.5),
      yMinor(0, 17.99, 168300, L_LOG_MINOR),
      yMinor(2, 1.965, 9160, R_LOG_MINOR),
    ],
    series,
    graphic: [
      {
        type: 'text', x: 333.5, y: 15.8, silent: true,
        style: { text: 'Visibility Variance Across Nights at 2.047 Hours LST\n(Mean Over Unflagged Times and Baselines)', fontSize: 12, fontFamily: FONT, fill: '#000', align: 'center', verticalAlign: 'middle', lineHeight: 15 },
      },
      {
        type: 'text', x: 954, y: 15.8, silent: true,
        style: { text: 'Variance of LST-Binned Visibilities at 2.047 Hours LST\n(Mean Over Unflagged Times and Baselines, measured by frequency-interleaving)', fontSize: 12, fontFamily: FONT, fill: '#000', align: 'center', verticalAlign: 'middle', lineHeight: 15 },
      },
      ...topLeftLegend(),
      ...topRightLegend(),
      ...ratioLegend(0, MEANS_L),
      ...ratioLegend(620.5, MEANS_R),
    ],
  };
}

export default function App() {
  const ref = useRef<HTMLDivElement>(null);
  useEffect(() => {
    const chart = echarts.init(ref.current as HTMLDivElement, null, { renderer: 'svg', width: 1251, height: 617 });
    chart.setOption(buildOption() as any);
    return () => chart.dispose();
  }, []);
  return <div ref={ref} style={{ position: 'fixed', left: 0, top: 0, width: 1251, height: 617, background: '#fff' }} />;
}
